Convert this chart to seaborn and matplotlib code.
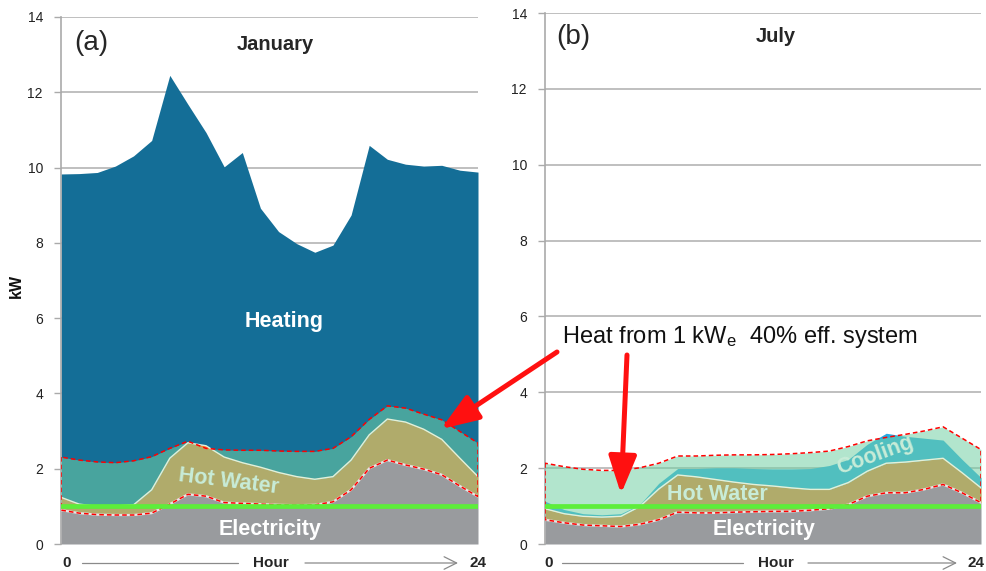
import numpy as np
import pandas as pd
import matplotlib
matplotlib.use("Agg")
import matplotlib.pyplot as plt
import seaborn as sns

# ---------------- data (kW, cumulative stack tops, hours 0..23) ----------------
hours = list(range(24))
jan_elec = [0.90, 0.82, 0.78, 0.77, 0.77, 0.82, 1.06, 1.32, 1.27, 1.10, 1.08, 1.06,
            1.04, 1.03, 1.04, 1.12, 1.44, 2.01, 2.23, 2.10, 1.99, 1.84, 1.54, 1.26]
jan_hotwater = [1.24, 1.06, 1.00, 1.01, 1.04, 1.44, 2.28, 2.69, 2.61, 2.31, 2.16, 2.04,
                1.90, 1.79, 1.72, 1.79, 2.23, 2.90, 3.32, 3.24, 3.05, 2.78, 2.28, 1.79]
jan_heating = [9.83, 9.84, 9.87, 10.04, 10.31, 10.72, 12.45, 11.68, 10.93, 10.02, 10.40, 8.92,
               8.30, 7.98, 7.75, 7.94, 8.74, 10.59, 10.22, 10.09, 10.04, 10.06, 9.93, 9.88]
jan_chp = [2.31, 2.23, 2.18, 2.16, 2.21, 2.32, 2.54, 2.73, 2.54, 2.50, 2.49, 2.49,
           2.47, 2.46, 2.46, 2.54, 2.85, 3.31, 3.67, 3.61, 3.45, 3.30, 2.99, 2.68]

jul_elec = [0.64, 0.56, 0.50, 0.48, 0.46, 0.52, 0.64, 0.84, 0.82, 0.82, 0.84, 0.85,
            0.86, 0.86, 0.89, 0.93, 1.04, 1.26, 1.35, 1.35, 1.44, 1.57, 1.35, 1.09]
jul_hotwater = [0.93, 0.80, 0.73, 0.71, 0.73, 0.99, 1.45, 1.82, 1.77, 1.70, 1.63, 1.57,
                1.53, 1.48, 1.44, 1.44, 1.62, 1.92, 2.13, 2.16, 2.21, 2.26, 1.88, 1.48]
jul_cooling = [1.13, 0.91, 0.80, 0.77, 0.80, 1.04, 1.60, 1.99, 1.99, 2.01, 2.01, 1.99,
               1.98, 1.98, 1.99, 2.07, 2.23, 2.63, 2.92, 2.84, 2.79, 2.74, 2.23, 1.75]
jul_chp = [2.13, 2.04, 1.97, 1.94, 1.94, 2.01, 2.13, 2.32, 2.32, 2.34, 2.35, 2.35,
           2.36, 2.38, 2.41, 2.45, 2.57, 2.72, 2.81, 2.89, 2.98, 3.09, 2.79, 2.49]

chp_elec_kw = 1.0
yticks = [0, 2, 4, 6, 8, 10, 12, 14]

jan = pd.DataFrame({"hour": hours, "elec": jan_elec, "hw": jan_hotwater,
                    "heat": jan_heating, "chp": jan_chp})
jul = pd.DataFrame({"hour": hours, "elec": jul_elec, "hw": jul_hotwater,
                    "cool": jul_cooling, "chp": jul_chp})

# ---------------- style ----------------
sns.set_theme(style="white")
plt.rcParams["font.family"] = ["Liberation Sans", "DejaVu Sans"]
plt.rcParams["mathtext.fontset"] = "custom"
plt.rcParams["mathtext.rm"] = "Liberation Sans"
plt.rcParams["mathtext.it"] = "Liberation Sans"

C_ELEC = "#999b9e"
C_HW = "#fb7f28"       # natural hot-water colour (appears olive under overlay)
C_HEAT = "#146e97"
C_COOL = "#28aae1"
C_OVER = "#73d1a4"
A_OVER = 0.55
C_GRID = "#b4b4b4"
C_LABEL = "#c8ecd8"

W, H = 987, 571
fig = plt.figure(figsize=(W / 100, H / 100), dpi=100)
ax1 = fig.add_axes([61 / W, (H - 544) / H, 417 / W, 527 / H])
ax2 = fig.add_axes([545 / W, (H - 544) / H, 436 / W, 531 / H])


def style_axes(ax):
    ax.set_xlim(0, 23)
    ax.set_ylim(0, 14)
    ax.set_yticks(yticks)
    ax.set_xticks([])
    ax.yaxis.grid(True, color=C_GRID, lw=1.2, zorder=0)
    ax.set_axisbelow(True)
    for s in ["top", "right", "bottom"]:
        ax.spines[s].set_visible(False)
    ax.spines["left"].set_color("#aaaaaa")
    ax.spines["left"].set_linewidth(1.2)
    ax.tick_params(axis="y", direction="out", length=5, width=1, color="#aaaaaa",
                   labelsize=10, labelcolor="#222222", pad=8, left=True)
    ax.set_xlabel("")
    ax.set_ylabel("")


def draw_overlay(ax, df):
    x = df["hour"]
    ax.fill_between(x, df["elec"], df["chp"], color=C_OVER, alpha=A_OVER, lw=0, zorder=4)
    # lower boundary: light line with red dashes
    ax.plot(x, df["elec"], color="#e6e6e6", lw=1.6, zorder=5)
    ax.fill_between(x, df["elec"], df["chp"], facecolor="none", edgecolor="red",
                    linestyle=(0, (3, 2)), lw=1.1, zorder=6)
    sns.lineplot(x=[0, 23], y=[chp_elec_kw, chp_elec_kw], ax=ax, color="#5dee3a",
                 lw=3.4, zorder=7)


# ---------------- January ----------------
style_axes(ax1)
x = jan["hour"]
ax1.fill_between(x, 0, jan["elec"], color=C_ELEC, lw=0, zorder=2)
ax1.fill_between(x, jan["elec"], jan["hw"], color=C_HW, lw=0, zorder=2)
ax1.fill_between(x, jan["hw"], jan["heat"], color=C_HEAT, lw=0, zorder=2)
draw_overlay(ax1, jan)
sns.lineplot(data=jan, x="hour", y="hw", ax=ax1, color="#e4f0d8", lw=1.0, zorder=5)
ax1.set_xlabel("")
ax1.set_ylabel("kW", fontsize=11.5, fontweight="bold", color="#111111")
ax1.yaxis.set_label_coords(-0.088, 0.49)
ax1.set_ylim(0, 14)
ax1.set_xlim(0, 23)

# ---------------- July ----------------
style_axes(ax2)
x = jul["hour"]
ax2.fill_between(x, 0, jul["elec"], color=C_ELEC, lw=0, zorder=2)
ax2.fill_between(x, jul["elec"], jul["hw"], color=C_HW, lw=0, zorder=2)
ax2.fill_between(x, jul["hw"], jul["cool"], color=C_COOL, lw=0, zorder=2)
draw_overlay(ax2, jul)
sns.lineplot(data=jul, x="hour", y="hw", ax=ax2, color="#e4f0d8", lw=1.0, zorder=5)
ax2.set_xlabel("")
ax2.set_ylabel("")
ax2.set_ylim(0, 14)
ax2.set_xlim(0, 23)


def ftext(px, py, s, **kw):
    fig.text(px / W, 1 - py / H, s, **kw)


# panel titles / tags
ftext(275, 44, "January", ha="center", va="center", fontsize=14.5, fontweight="bold")
ftext(776, 36, "July", ha="center", va="center", fontsize=14.5, fontweight="bold")
ftext(74, 43, "(a)", ha="left", va="center", fontsize=20)
ftext(556, 37, "(b)", ha="left", va="center", fontsize=20)

# in-chart labels
LBL = 15.5
ftext(284, 321, "Heating", ha="center", va="center", fontsize=LBL, fontweight="bold", color="white")
ftext(229, 482, "Hot Water", ha="center", va="center", fontsize=LBL, fontweight="bold",
      color=C_LABEL, rotation=-7)
ftext(270, 529, "Electricity", ha="center", va="center", fontsize=LBL, fontweight="bold", color="white")
ftext(717, 494, "Hot Water", ha="center", va="center", fontsize=LBL, fontweight="bold", color=C_LABEL)
ftext(764, 530, "Electricity", ha="center", va="center", fontsize=LBL, fontweight="bold", color="white")
ftext(875, 455, "Cooling", ha="center", va="center", fontsize=LBL, fontweight="bold",
      color=C_LABEL, rotation=20)

# x axis pseudo-labels with arrows
for (x0, l1a, l1b, hx, l2a, l2b, x24) in [(67, 82, 238, 271, 305, 458, 478),
                                          (549, 562, 743, 776, 808, 957, 976)]:
    ftext(x0, 563, "0", ha="center", va="center", fontsize=11, fontweight="bold")
    ftext(hx, 563, "Hour", ha="center", va="center", fontsize=11, fontweight="bold")
    ftext(x24, 563, "24", ha="center", va="center", fontsize=11, fontweight="bold")
    fig.add_artist(matplotlib.lines.Line2D([l1a / W, l1b / W], [1 - 563 / H] * 2,
                                           color="#8a8a8a", lw=0.9))
    ax2.annotate("", xy=(l2b, H - 563), xytext=(l2a, H - 563), xycoords="figure pixels",
                 textcoords="figure pixels", annotation_clip=False,
                 arrowprops=dict(arrowstyle="->,head_length=0.9,head_width=0.45",
                                 color="#8a8a8a", lw=0.9, shrinkA=0, shrinkB=0,
                                 mutation_scale=10))

# annotation
ftext(562, 337, "Heat from 1 kW$_\\mathregular{e}$  40% eff. system", ha="left", va="center",
      fontsize=17, color="#111111")
arrow_kw = dict(arrowstyle="-|>,head_length=2.3,head_width=0.85", color="#ff1010", lw=3.6,
                shrinkA=0, shrinkB=0, mutation_scale=10)
a1 = ax2.annotate("", xy=(441, H - 429), xytext=(557, H - 352), xycoords="figure pixels",
                  textcoords="figure pixels", annotation_clip=False, arrowprops=arrow_kw)
a2 = ax2.annotate("", xy=(621, H - 494), xytext=(627, H - 355), xycoords="figure pixels",
                  textcoords="figure pixels", annotation_clip=False, arrowprops=arrow_kw)
a1.set_zorder(30)
a2.set_zorder(30)

legend = ax1.get_legend()
if legend:
    legend.remove()

fig.savefig("out.png", dpi=100)
